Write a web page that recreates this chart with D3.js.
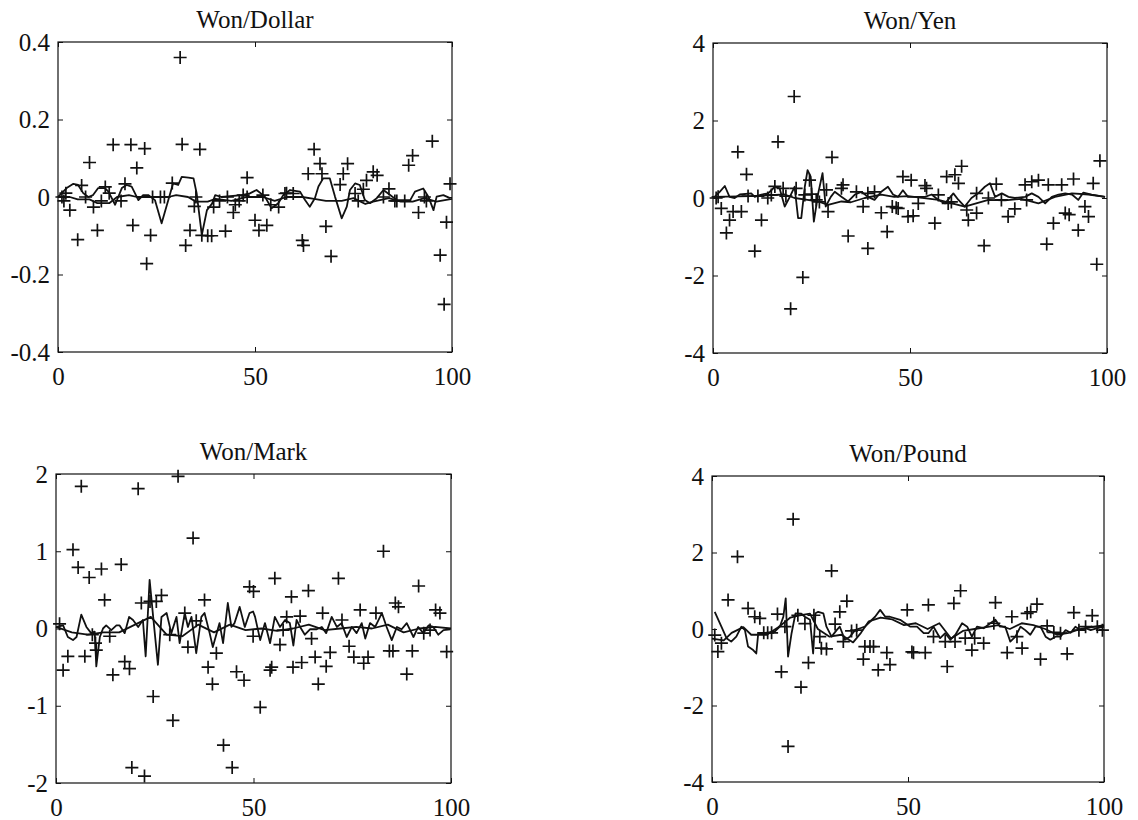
<!DOCTYPE html>
<html>
<head>
<meta charset="utf-8">
<script src="https://cdn.jsdelivr.net/npm/d3@7"></script>
<style>
  body { margin: 0; background: #fff; }
  svg { display: block; }
  .tick text { font-family: "Liberation Serif", "Times New Roman", serif; font-size: 25px; fill: #111; }
  .title { font-family: "Liberation Serif", "Times New Roman", serif; font-size: 25px; fill: #111; }
</style>
</head>
<body>
<svg id="chart" width="1138" height="820"></svg>
<script>
// x ticks shared by all panels
const xTicks = [0, 50, 100];

// ---- Won/Dollar ----
const dollarTicks = [-0.4, -0.2, 0, 0.2, 0.4];
const dollarPoints = [
  [1,0],[1.5,-0.01],[2,0.01],[3,-0.034],[5,-0.11],[6,0.03],[7,0],[8,0.089],[9,-0.026],[10,-0.086],
  [11,-0.01],[12,0.026],[13,0.01],[14,0.135],[16,-0.01],[17,0.034],[18.5,0.135],[19,-0.073],[20,0.075],
  [22,0.125],[22.5,-0.172],[23.5,-0.099],[24,0],[26,0],[27,0],[29,0.036],[31,0.36],[31.5,0.136],
  [32.4,-0.125],[33.5,-0.086],[34.6,-0.024],[35,0],[36,0.123],[36.5,-0.099],[38,-0.1],[39,-0.1],
  [39.5,-0.026],[41,-0.01],[42.5,-0.088],[43,0],[44.5,-0.04],[45,-0.02],[46,-0.01],[47,0.005],[48,0.05],
  [48,0],[50,-0.06],[51,-0.086],[52,0.005],[53,-0.073],[54,-0.02],[56,-0.026],[57.6,0.009],[58,0.01],
  [59.7,0.009],[62,-0.112],[62.3,-0.125],[63.5,0.06],[65,0.123],[66.5,0.086],[67,0.06],[68,-0.076],
  [69.3,-0.153],[71.6,0.032],[72.4,0.06],[73.5,0.086],[75.4,0.009],[76.2,-0.01],[77.5,0.02],[78.3,0.043],
  [80,0.065],[81,0.056],[82.6,0],[84,0.021],[85.5,-0.01],[86,-0.01],[88,-0.01],[89,0.082],[90,0.107],
  [91.5,-0.04],[93,0],[93.5,-0.01],[95,0.144],[97,-0.15],[98,-0.277],[98.6,-0.065],[99.5,0.034]
];
const dollarLineA = [
  [0,0],[2.2,0.023],[3.9,0.034],[5.1,0.031],[6.4,0.01],[7.7,0],[8.9,0.005],[10.2,0.023],[11.9,0.023],
  [12.8,0.014],[14.5,-0.02],[16.2,0.023],[17.4,0.031],[18.7,0.027],[20.4,-0.008],[21.6,0.005],[22.9,0.005],
  [24.6,-0.008],[26.3,-0.068],[28,-0.008],[29.2,0.035],[30.5,0.031],[31.4,0.052],[33.1,0.05],[34.4,0.048],
  [35.2,0.009],[36.5,-0.098],[37.8,-0.034],[39.1,-0.017],[39.9,0.005],[41.5,0],[46.6,0.005],[48.7,0.0095],
  [50.4,0.018],[52.5,0.001],[54.2,-0.029],[55.9,-0.016],[57.2,0.005],[58.9,0.018],[61.4,0.014],[62.7,-0.008],
  [63.9,-0.025],[65.2,-0.003],[66.1,0.027],[67.3,0.048],[69,0.048],[70.3,0.001],[72,-0.055],[73.3,-0.025],
  [74.1,0.018],[75.4,0.035],[76.6,0.031],[77.9,-0.008],[79.2,-0.016],[80.9,-0.003],[82.6,0.018],[84.3,0.005],
  [86,-0.008],[89.4,-0.008],[90.6,0.014],[92.7,0.022],[94,0.001],[95.3,-0.034],[96.1,0.001],[97.8,0.005],[99.5,-0.003]
];
const dollarLineB = [
  [0,0],[3,0],[5,-0.006],[8,-0.006],[10,-0.016],[13,-0.016],[15,0],[18,0.005],[20,0],[25,0],[28,0],
  [30,0.005],[33,0],[35,-0.012],[38,-0.012],[40,-0.005],[44,-0.01],[48,0],[52,0],[55,-0.01],[58,0],
  [62,0],[65,-0.005],[68,-0.01],[72,-0.01],[75,-0.003],[78,-0.018],[80,-0.012],[84,-0.003],[87,-0.012],
  [90,-0.012],[93,-0.003],[96,-0.012],[100,-0.005]
];

// ---- Won/Yen ----
const yenTicks = [-4, -2, 0, 2, 4];
const yenPoints = [
  [0.8,0],[1.3,0.03],[2.1,-0.27],[3.4,-0.9],[4.2,-0.57],[5.1,-0.35],[6.3,1.19],[7.2,-0.35],[8.5,0.61],
  [8.9,0.05],[10.6,-1.37],[11.4,0.05],[12.3,-0.57],[13.9,0],[14.8,0.08],[15.7,0.3],[16.5,1.45],[17.8,0.25],
  [18.5,0.05],[19.7,-2.86],[20.6,2.62],[21.1,0.25],[22.8,-2.05],[23.3,0.08],[24.5,0.46],[25,0.1],[26.2,-0.05],
  [27,-0.1],[28.8,0.21],[29.2,-0.35],[30.2,1.05],[32.6,0.25],[33,0.34],[34.3,-0.98],[36.4,0.16],[38.1,-0.22],
  [39.3,-1.3],[39.3,0.12],[41,0.16],[42.7,-0.38],[44.2,-0.87],[45.5,-0.22],[46.5,-0.25],[47,-0.27],[48.2,0.55],
  [49.5,-0.48],[50.3,0.46],[50.8,-0.46],[52.1,-0.14],[53.8,0.32],[54.2,0.25],[56.3,-0.65],[57.2,0.08],
  [59.3,0.55],[59.7,-0.14],[60.5,-0.1],[61.4,0.6],[62.3,0.38],[63.1,0.82],[64.4,-0.31],[64.8,-0.57],
  [66.9,-0.39],[66.9,0.12],[68.8,-1.23],[69.9,0],[71.9,0.36],[73.2,-0.05],[74.9,-0.48],[76.6,-0.28],
  [79.2,0.34],[79.6,-0.05],[80.9,0.42],[82.6,0.46],[84.7,-1.19],[85.1,0.34],[86.4,-0.65],[88.5,0.34],
  [89.4,-0.39],[90.4,-0.43],[91.5,0.49],[92.7,-0.83],[94.4,-0.22],[95.3,-0.48],[96.5,0.38],[97.4,-1.71],[98.2,0.96]
];
const yenLineA = [
  [0.4,0.03],[1.7,0.16],[3,0.31],[4.2,0.03],[5.5,0],[6.8,0.09],[9.7,0.12],[10.6,0.03],[12.3,0.09],[14,0.12],
  [15.7,0.29],[16.9,0.25],[18.2,-0.22],[19.5,0.03],[20.7,0.29],[21.6,-0.52],[22.4,-0.52],[23.3,0.29],[24,0.72],
  [24.8,0.55],[25.6,-0.61],[26.7,0.12],[27.8,0.64],[28.6,-0.22],[29.9,0.03],[30.9,0.16],[32.6,0.03],[34.3,-0.09],
  [36,0.09],[37.7,0.16],[39.3,0.03],[41,-0.05],[42.7,0.16],[44.4,0.29],[45.7,0.09],[47,0.03],[48.2,0.2],[49.5,0.03],
  [51.3,0.03],[53.8,0.03],[55.5,0.09],[57.2,-0.05],[58.9,-0.14],[61,0.12],[62.3,-0.05],[63.9,-0.22],[65.6,0],
  [67.3,0.12],[69,0.29],[70.3,0.38],[71.6,0.03],[73.3,0.12],[75,0.03],[76.6,0],[79.2,0.03],[80.9,0.12],[82.6,0.03],
  [84.3,-0.14],[86,0.03],[87.7,0.09],[89.4,0.12],[91.1,0.09],[92.7,-0.05],[94,0.14],[96.1,0.09],[99.5,0.03]
];
const yenLineB = [
  [0,0.03],[9.7,0.05],[18.2,0.09],[20.7,0],[24,-0.05],[26.7,-0.09],[29.2,-0.18],[32.6,-0.09],[35,-0.11],
  [38.5,0],[42.7,0.09],[46,0.03],[49.5,0.05],[57.2,-0.05],[63.9,-0.22],[69.9,-0.05],[74.1,-0.06],[78.3,-0.02],
  [82.6,-0.14],[86.8,0.03],[91.1,0.12],[95.3,0.09],[99.5,0.03]
];

// ---- Won/Mark ----
const markTicks = [-2, -1, 0, 1, 2];
const markPoints = [
  [0.9,0.06],[1.8,-0.54],[3,-0.36],[4.3,1.02],[5.6,0.79],[6.4,1.84],[7.3,-0.36],[8.4,0.66],[9.2,-0.08],
  [10,-0.19],[10.2,-0.28],[11.5,0.77],[12.3,0.37],[13.6,-0.1],[14.4,-0.6],[16.5,0.83],[17.4,-0.43],[18.6,-0.52],
  [19.2,-1.8],[20.8,1.81],[21.6,0.33],[22.4,-1.91],[23.8,0.35],[24.6,-0.88],[25.4,0.35],[26.7,0.43],[28.8,-0.08],
  [29.6,-1.19],[30.9,1.97],[32.6,0.2],[33.4,-0.24],[34.7,1.17],[35.5,0.1],[37.6,0.37],[38.5,-0.5],[39.6,-0.72],
  [40.6,-0.32],[42.4,-1.51],[44.6,-1.8],[45.7,-0.56],[47.6,-0.67],[49,0.54],[49.9,-0.1],[50,0.48],[51.7,-1.02],
  [54.2,-0.54],[54.6,-0.5],[55.4,0.65],[56.7,-0.21],[57.5,-0.02],[58.4,0.15],[59.6,0.41],[60,-0.5],[61.8,0.16],
  [62.2,-0.44],[63.9,0.49],[64.7,-0.13],[65.6,-0.37],[66.4,-0.72],[67.5,0.2],[68.4,-0.49],[69.4,-0.31],
  [71.5,0.65],[72.4,0.11],[74.2,-0.23],[75.4,-0.37],[77,0.24],[77.9,-0.45],[79,-0.37],[81,0.2],[82.9,1],
  [84.4,-0.29],[85.3,-0.29],[85.9,0.33],[86.7,0.28],[88.8,-0.59],[90.2,-0.29],[91.8,0.55],[93.1,-0.06],
  [94.7,-0.02],[96.1,0.24],[97.2,0.2],[98.9,-0.3]
];
const markLineA = [
  [0.1,0.02],[1.8,0.04],[3,-0.11],[4.3,-0.15],[5.2,-0.11],[6.4,0.18],[7.7,0.02],[8.9,-0.06],[9.8,-0.04],
  [10.2,-0.49],[11.1,-0.11],[11.9,0],[12.7,0.04],[14,-0.02],[15.3,0.04],[16.1,0.04],[17.4,-0.06],[18.5,0.15],
  [19.5,0.11],[20.8,0.02],[22,0.11],[22.7,-0.36],[23.7,0.63],[24.6,0.15],[25.8,-0.47],[26.7,0.15],[28,0.2],
  [29.2,-0.06],[30.5,0.15],[31.3,-0.19],[32.6,0.2],[33.4,0.02],[34.3,0.15],[35.5,-0.32],[36.8,0.15],[37.6,0.2],
  [38.9,-0.06],[39.7,-0.24],[41.4,0.07],[42.3,-0.19],[43.5,0.33],[44.4,0.02],[45.2,0.07],[46.5,0.28],[47.8,0.02],
  [49,0.2],[49.9,0.22],[50.4,0.15],[51.7,-0.15],[52.9,0.07],[54.2,-0.19],[55.4,0.15],[56.7,0.02],[58,0.11],
  [59.2,0.07],[60.1,-0.22],[60.9,0.11],[61.8,0.02],[63,-0.08],[64.3,-0.01],[66,-0.01],[67.3,0.02],[68.4,-0.06],
  [69.8,0.15],[71.1,0.02],[72.3,0.07],[73.6,-0.11],[74.9,0.02],[76.1,-0.06],[77.4,0.07],[78.3,-0.13],[79.5,0.07],
  [80.8,0.02],[82.5,0.2],[83.7,0.02],[85,-0.15],[86.3,0.02],[87.5,-0.01],[88.8,0.07],[90.5,-0.11],[91.7,0.02],
  [93,-0.06],[94.3,0.04],[95.5,0.02],[96.8,-0.08],[98.1,-0.02],[99.8,-0.01]
];
const markLineB = [
  [0,0.02],[4,-0.05],[8,-0.08],[12,-0.05],[16,-0.05],[20,0.05],[24,0.15],[28,-0.08],[32,-0.1],[36,0.05],
  [40,-0.05],[44,0.05],[48,-0.02],[52,0],[56,-0.03],[60,0],[64,0.05],[68,-0.02],[72,0],[76,0.02],[80,0],
  [84,0.05],[88,-0.05],[92,0],[96,0.02],[100,0]
];

// ---- Won/Pound ----
const poundTicks = [-4, -2, 0, 2, 4];
const poundPoints = [
  [0.7,-0.16],[1.5,-0.59],[2.4,-0.37],[4.1,0.76],[6.5,1.89],[9.2,0.54],[10.9,0.32],[12.2,0.28],[13.2,-0.1],
  [14.2,-0.1],[15.2,-0.1],[16.7,0.39],[17.7,-1.12],[18.6,0.06],[19.4,-3.07],[20.7,2.87],[21.9,0.36],[22.7,-1.52],
  [23.7,0.14],[24.6,-0.88],[26,0.36],[27.5,-0.2],[27.9,-0.5],[29.2,-0.52],[30.5,1.52],[31.4,0.13],[32.6,0.45],
  [33.5,-0.33],[34.4,0.73],[35.6,-0.05],[36.9,-0.03],[38.6,-0.79],[39,-0.46],[40.3,-0.46],[41.2,-0.46],
  [42.4,-1.07],[44.6,-0.62],[45.4,-0.93],[49.8,0.5],[51,-0.6],[51.4,-0.62],[54.4,-0.62],[55.2,0.63],[56.5,-0.2],
  [59.5,-0.33],[60,-0.98],[61.7,0.67],[62,-0.33],[63.4,1],[64.6,-0.24],[66.3,-0.55],[67,-0.24],[69.3,-0.37],
  [71.9,0.15],[72.3,0.69],[75.3,-0.62],[76.5,0.32],[77.8,-0.2],[79.1,-0.5],[80.4,0.41],[81.3,0.45],[82.9,0.65],
  [83.8,-0.79],[85.5,0.08],[87.2,-0.09],[88.9,-0.11],[90.6,-0.65],[92.3,0.43],[93.6,-0.03],[95.3,0.06],
  [97,0.35],[98.3,0.06],[99.6,-0.03]
];
const poundLineA = [
  [0.7,0.45],[2.4,0.06],[3.7,-0.24],[4.9,-0.33],[6.2,-0.2],[7.5,0.06],[8.4,-0.03],[9.2,-0.46],[10.5,-0.55],
  [11.3,-0.64],[11.8,-0.11],[13,-0.11],[16,-0.07],[17.3,0.06],[18.2,0.32],[18.8,0.8],[19.4,-0.72],[20.3,-0.11],
  [21.3,0.41],[22.8,0.4],[23.7,0.32],[25,0.24],[25.8,-0.64],[26.4,0.41],[27.1,0.45],[28.4,0.41],[29.2,0.06],
  [30.5,-0.2],[31.8,-0.03],[32.6,0.06],[33.9,-0.28],[35.2,-0.2],[36.5,-0.03],[37.8,0.02],[39,0.06],[40.3,0.19],
  [41.6,0.32],[42.9,0.5],[44.2,0.32],[45.4,0.32],[46.7,0.28],[48,0.24],[49.3,0.15],[50.6,0.06],[52.3,0.06],
  [54,-0.11],[55.2,-0.11],[56.5,0.06],[58.2,-0.24],[59.5,-0.11],[60.8,-0.28],[62.1,-0.15],[63.8,0.15],[65.1,0.06],
  [66.3,-0.2],[67.6,0.06],[69.3,0.02],[71,0.15],[72.3,0.24],[73.5,0.06],[74.8,0.06],[76.1,-0.33],[77.4,-0.2],
  [78.7,0.06],[79.9,-0.03],[81.2,-0.15],[82.5,0.06],[83.8,0.06],[85.1,-0.2],[86.3,-0.28],[87.6,-0.2],[88.9,-0.2],
  [90.2,-0.03],[91.5,-0.1],[92.7,0.06],[94,-0.03],[95.3,0.02],[96.6,-0.03],[98.3,0.02],[100,0.06]
];
const poundLineB = [
  [0,-0.25],[3,-0.3],[5,-0.1],[8,0.05],[10,-0.15],[14,-0.15],[17,0.05],[20,0.3],[22,0.35],[25,0.4],[27,0],
  [30,-0.2],[33,-0.15],[36,-0.35],[38,-0.1],[40,0.2],[43,0.3],[46,0.25],[49,0.1],[52,0.15],[55,0],[58,0.15],
  [61,-0.25],[64,-0.05],[67,0],[70,0.05],[73,0.1],[76,0],[79,0.15],[82,0.1],[85,0],[88,-0.15],[91,-0.1],
  [94,0],[97,0.05],[100,0.1]
];

const panels = [
  { title: "Won/Dollar", left: 58, top: 42, right: 452, bottom: 352, ticks: dollarTicks, points: dollarPoints, lines: [dollarLineB, dollarLineA] },
  { title: "Won/Yen", left: 713, top: 43, right: 1107, bottom: 353, ticks: yenTicks, points: yenPoints, lines: [yenLineB, yenLineA] },
  { title: "Won/Mark", left: 56, top: 474, right: 451, bottom: 783, ticks: markTicks, points: markPoints, lines: [markLineB, markLineA] },
  { title: "Won/Pound", left: 712, top: 476, right: 1104, bottom: 782, ticks: poundTicks, points: poundPoints, lines: [poundLineB, poundLineA] }
];

const svg = d3.select("#chart");
const ink = "#111";

panels.forEach(p => {
  const w = p.right - p.left, h = p.bottom - p.top;
  const g = svg.append("g").attr("transform", `translate(${p.left},${p.top})`);

  const x = d3.scaleLinear().domain([0, 100]).range([0, w]);
  const y = d3.scaleLinear().domain([p.ticks[0], p.ticks[p.ticks.length - 1]]).range([h, 0]);

  // axes with inward ticks on all four sides, plain hyphen minus signs
  const fmt = v => String(v);
  g.append("g").attr("transform", `translate(0,${h})`)
    .call(d3.axisBottom(x).tickValues(xTicks).tickSize(-5).tickPadding(15).tickFormat(fmt));
  g.append("g")
    .call(d3.axisLeft(y).tickValues(p.ticks).tickSize(-5).tickPadding(8).tickFormat(fmt));
  g.append("g")
    .call(d3.axisTop(x).tickValues(xTicks).tickSize(-5).tickFormat(""));
  g.append("g").attr("transform", `translate(${w},0)`)
    .call(d3.axisRight(y).tickValues(p.ticks).tickSize(-5).tickFormat(""));
  g.selectAll(".domain").remove();
  g.selectAll(".tick line").attr("stroke", ink).attr("stroke-width", 1);
  g.selectAll(".tick text").attr("fill", ink);

  g.append("rect")
    .attr("width", w).attr("height", h)
    .attr("fill", "none").attr("stroke", ink).attr("stroke-width", 1.2);

  // fitted lines
  const line = d3.line().x(d => x(d[0])).y(d => y(d[1]));
  p.lines.forEach(ln => {
    g.append("path").datum(ln)
      .attr("d", line)
      .attr("fill", "none").attr("stroke", ink).attr("stroke-width", 1.8)
      .attr("stroke-linejoin", "round");
  });

  // "+" markers
  const s = 6.5;
  g.append("g").selectAll("path")
    .data(p.points)
    .enter().append("path")
    .attr("d", d => {
      const cx = x(d[0]), cy = y(d[1]);
      return `M${cx - s},${cy}h${2 * s}M${cx},${cy - s}v${2 * s}`;
    })
    .attr("stroke", ink).attr("stroke-width", 1.7).attr("fill", "none");

  // title
  svg.append("text").attr("class", "title")
    .attr("x", (p.left + p.right) / 2).attr("y", p.top - 14)
    .attr("text-anchor", "middle")
    .text(p.title);
});
</script>
</body>
</html>
